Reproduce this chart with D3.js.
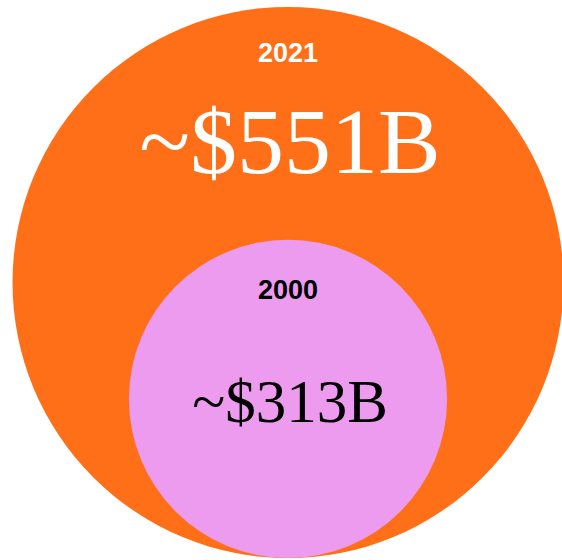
<!DOCTYPE html>
<html>
<head>
<meta charset="utf-8">
<script src="https://cdn.jsdelivr.net/npm/d3@7"></script>
<style>
  html, body { margin: 0; padding: 0; background: #fff; }
  svg { display: block; }
</style>
</head>
<body>
<svg id="chart" width="562" height="560"></svg>
<script>
// data
const years = ["2021", "2000"];
const values = [551, 313];
const valueLabels = ["~$551B", "~$313B"];
const fills = ["#fe6f17", "#ec9bef"];
const textColors = ["#ffffff", "#000000"];

const svg = d3.select('#chart');
const width = +svg.attr('width');
const height = +svg.attr('height');

const cx = 288;
const bottom = 558;

// radius scale (circles share the bottom edge)
const rScale = d3.scaleLinear()
  .domain([0, d3.max(values)])
  .range([6, 275.5]);

const data = years.map((y, i) => ({
  year: y,
  value: values[i],
  label: valueLabels[i],
  fill: fills[i],
  color: textColors[i],
  r: rScale(values[i])
}));
data.forEach(d => { d.cy = bottom - d.r; });

const g = svg.selectAll('.bubble')
  .data(data)
  .enter()
  .append('g')
  .attr('class', 'bubble');

g.append('circle')
  .attr('cx', cx)
  .attr('cy', d => d.cy)
  .attr('r', d => d.r)
  .style('fill', d => d.fill);

// year label
g.append('text')
  .attr('x', cx)
  .attr('y', (d, i) => i === 0 ? d.cy - d.r + 55 : d.cy - d.r + 59)
  .attr('text-anchor', 'middle')
  .style('font-family', '"Liberation Sans", Arial, sans-serif')
  .style('font-weight', 'bold')
  .style('font-size', '27px')
  .style('fill', d => d.color)
  .text(d => d.year);

// value label
g.append('text')
  .attr('x', cx + 2)
  .attr('y', (d, i) => i === 0 ? d.cy - d.r + 166 : d.cy + 23)
  .attr('text-anchor', 'middle')
  .style('font-family', '"Liberation Serif", "DejaVu Serif", serif')
  .style('font-size', (d, i) => i === 0 ? '94px' : '61px')
  .style('fill', d => d.color)
  .text(d => d.label);
</script>
</body>
</html>
